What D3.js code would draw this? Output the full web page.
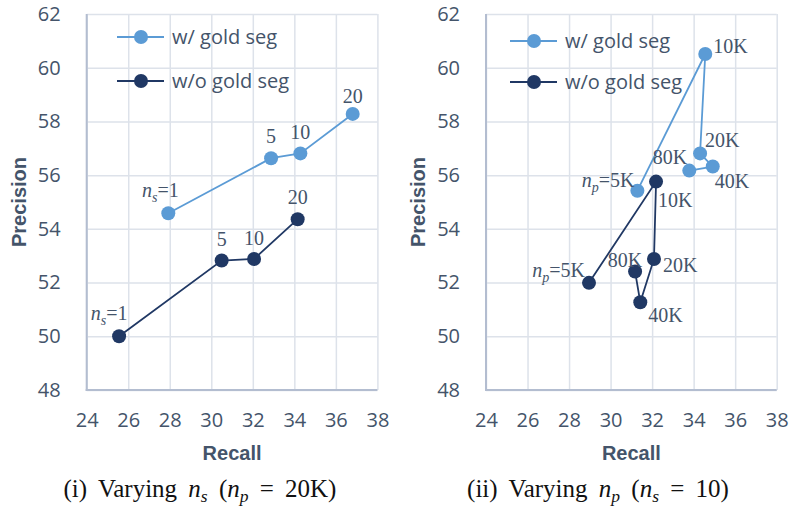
<!DOCTYPE html>
<html>
<head>
<meta charset="utf-8">
<script src="https://cdn.jsdelivr.net/npm/d3@7/dist/d3.min.js"></script>
<style>
  html, body { margin: 0; padding: 0; background: #ffffff; }
  svg { display: block; }
</style>
</head>
<body>
<svg id="chart" width="789" height="512"></svg>
<script>
// ---- data ----
const recallTicks = [24, 26, 28, 30, 32, 34, 36, 38];
const precisionTicks = [48, 50, 52, 54, 56, 58, 60, 62];
const seriesNames = ["w/ gold seg", "w/o gold seg"];

// (i) varying n_s with n_p = 20K
const nsLevels = ["1", "5", "10", "20"];
const nsGoldRecall = [27.93, 32.88, 34.29, 36.81];
const nsGoldPrecision = [54.58, 56.63, 56.81, 58.28];
const nsNoGoldRecall = [25.56, 30.50, 32.06, 34.16];
const nsNoGoldPrecision = [50.00, 52.82, 52.88, 54.36];

// (ii) varying n_p with n_s = 10
const npLevels = ["5K", "10K", "20K", "40K", "80K"];
const npGoldRecall = [31.29, 34.56, 34.31, 34.92, 33.79];
const npGoldPrecision = [55.42, 60.51, 56.81, 56.32, 56.17];
const npNoGoldRecall = [28.96, 32.19, 32.09, 31.43, 31.18];
const npNoGoldPrecision = [51.99, 55.76, 52.88, 51.27, 52.41];

// ---- label placement (offset from point, in px) ----
const nsGoldLabelPos = [[-8, -16, "middle"], [0, -15, "middle"], [0, -14, "middle"], [0, -11, "middle"]];
const nsNoGoldLabelPos = [[-10, -16, "middle"], [0, -15, "middle"], [0, -14, "middle"], [0, -15, "middle"]];
const npGoldLabelPos = [[-3, -4, "end"], [8, -1, "start"], [5, -6, "start"], [2, 21, "start"], [-2, -7, "end"]];
const npNoGoldLabelPos = [[-4, -6, "end"], [2, 25, "start"], [9, 13, "start"], [8, 20, "start"], [7, -5, "end"]];

// ---- styling ----
const COLOR_LIGHT = "#5b9bd5";
const COLOR_DARK = "#203864";
const TEXT = "#44546a";
const GRID = "#dde2ea";
const AXIS = "#b3bdd0";
const SANS = "'Open Sans', 'Liberation Sans', sans-serif";
const SERIF = "'Liberation Serif', 'DejaVu Serif', serif";

const svg = d3.select("#chart");

function drawPanel(cfg) {
  const x = d3.scaleLinear().domain([24, 38]).range([cfg.left, cfg.left + 290.7]);
  const y = d3.scaleLinear().domain([48, 62]).range([390, 14]);
  const g = svg.append("g");

  // x grid + tick labels
  const xAxis = d3.axisBottom(x).tickValues(recallTicks).tickSize(-(390 - 14)).tickPadding(23).tickFormat(d3.format("d"));
  const gx = g.append("g").attr("transform", "translate(0,390)").call(xAxis);
  gx.select(".domain").remove();
  gx.selectAll("line").attr("stroke", GRID).attr("stroke-width", 1.5);
  gx.selectAll("text").attr("fill", TEXT).attr("font-family", SANS).attr("font-size", 20);

  // y grid + tick labels
  const yAxis = d3.axisLeft(y).tickValues(precisionTicks).tickSize(-290.7).tickPadding(26).tickFormat(d3.format("d"));
  const gy = g.append("g").attr("transform", `translate(${cfg.left},0)`).call(yAxis);
  gy.select(".domain").remove();
  gy.selectAll("line").attr("stroke", GRID).attr("stroke-width", 1.5);
  gy.selectAll("text").attr("fill", TEXT).attr("font-family", SANS).attr("font-size", 20);

  // left & bottom axis lines
  g.append("line").attr("x1", x(24)).attr("x2", x(24)).attr("y1", y(62)).attr("y2", y(48) + 1)
    .attr("stroke", AXIS).attr("stroke-width", 2);
  g.append("line").attr("x1", x(24) - 1).attr("x2", x(38)).attr("y1", y(48)).attr("y2", y(48))
    .attr("stroke", AXIS).attr("stroke-width", 2);

  // axis titles
  g.append("text").attr("x", (x(24) + x(38)) / 2).attr("y", 460)
    .attr("text-anchor", "middle").attr("font-family", "'Liberation Sans', Arial, sans-serif")
    .attr("font-weight", "bold").attr("font-size", 20).attr("fill", TEXT).text("Recall");
  g.append("text").attr("transform", `translate(${cfg.left - 68},${(y(48) + y(62)) / 2}) rotate(-90)`)
    .attr("text-anchor", "middle").attr("dy", "0.35em").attr("font-family", "'Liberation Sans', Arial, sans-serif")
    .attr("font-weight", "bold").attr("font-size", 20).attr("fill", TEXT).text("Precision");

  const line = d3.line().x(d => x(d.r)).y(d => y(d.p));

  cfg.series.forEach(s => {
    const pts = s.recall.map((r, i) => ({ r, p: s.precision[i], lab: cfg.levels[i], pos: s.labelPos[i], i }));
    g.append("path").datum(pts).attr("d", line).attr("fill", "none")
      .attr("stroke", s.color).attr("stroke-width", 1.8);
    g.selectAll(null).data(pts).enter().append("circle")
      .attr("cx", d => x(d.r)).attr("cy", d => y(d.p)).attr("r", 7)
      .attr("fill", s.color);
    // point labels
    pts.forEach(d => {
      const t = g.append("text").attr("x", x(d.r) + d.pos[0]).attr("y", y(d.p) + d.pos[1])
        .attr("text-anchor", d.pos[2]).attr("font-family", SERIF).attr("font-size", 20).attr("fill", TEXT);
      if (d.i === 0) {
        t.append("tspan").attr("font-style", "italic").text("n");
        t.append("tspan").attr("font-style", "italic").attr("font-size", 14).attr("dy", 5).text(cfg.symbol);
        t.append("tspan").attr("dy", -5).text("=" + d.lab);
      } else {
        t.text(d.lab);
      }
    });
  });

  // legend
  cfg.series.forEach((s, i) => {
    const ly = cfg.legendY[i];
    g.append("line").attr("x1", cfg.legendX).attr("x2", cfg.legendX + 47).attr("y1", ly).attr("y2", ly)
      .attr("stroke", s.color).attr("stroke-width", 1.8);
    g.append("circle").attr("cx", cfg.legendX + 24).attr("cy", ly).attr("r", 7).attr("fill", s.color);
    g.append("text").attr("x", cfg.legendX + 55).attr("y", ly).attr("dy", "0.35em")
      .attr("font-family", SANS).attr("font-size", 20).attr("fill", TEXT).text(seriesNames[i]);
  });

  // caption
  const cap = g.append("text").attr("x", cfg.captionX).attr("y", 497).attr("text-anchor", "middle")
    .attr("font-family", SERIF).attr("font-size", 25).attr("fill", "#111")
    .attr("word-spacing", 5).attr("xml:space", "preserve");
  cfg.caption.forEach(part => {
    const ts = cap.append("tspan").text(part.t);
    if (part.it) ts.attr("font-style", "italic");
    if (part.sub) ts.attr("font-size", 17.5).attr("dy", 5);
    if (part.up) ts.attr("dy", -5);
  });
}

drawPanel({
  left: 86.7,
  levels: nsLevels,
  symbol: "s",
  legendX: 117, legendY: [37, 81],
  captionX: 200,
  caption: [
    { t: "(i) Varying " }, { t: "n", it: true }, { t: "s", it: true, sub: true },
    { t: " (", up: true }, { t: "n", it: true }, { t: "p", it: true, sub: true },
    { t: " = 20K)", up: true }
  ],
  series: [
    { recall: nsGoldRecall, precision: nsGoldPrecision, color: COLOR_LIGHT, labelPos: nsGoldLabelPos },
    { recall: nsNoGoldRecall, precision: nsNoGoldPrecision, color: COLOR_DARK, labelPos: nsNoGoldLabelPos }
  ]
});

drawPanel({
  left: 486,
  levels: npLevels,
  symbol: "p",
  legendX: 510, legendY: [41, 82],
  captionX: 598,
  caption: [
    { t: "(ii) Varying " }, { t: "n", it: true }, { t: "p", it: true, sub: true },
    { t: " (", up: true }, { t: "n", it: true }, { t: "s", it: true, sub: true },
    { t: " = 10)", up: true }
  ],
  series: [
    { recall: npGoldRecall, precision: npGoldPrecision, color: COLOR_LIGHT, labelPos: npGoldLabelPos },
    { recall: npNoGoldRecall, precision: npNoGoldPrecision, color: COLOR_DARK, labelPos: npNoGoldLabelPos }
  ]
});
</script>
</body>
</html>
